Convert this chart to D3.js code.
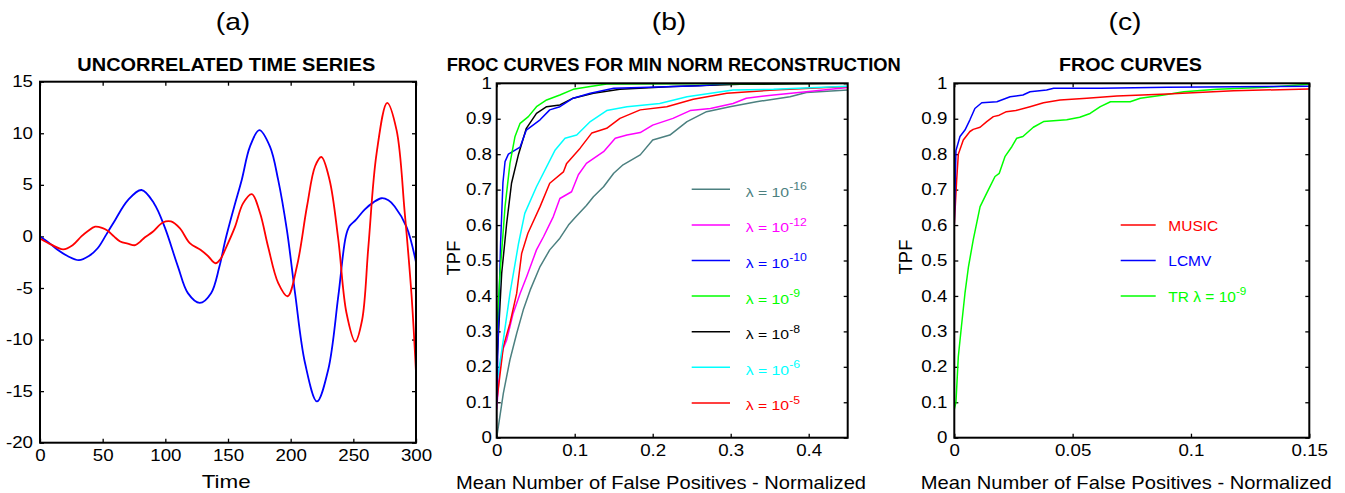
<!DOCTYPE html>
<html>
<head>
<meta charset="utf-8">
<script src="https://cdn.jsdelivr.net/npm/d3@7"></script>
<style>
body { margin: 0; background: #fff; }
text { font-family: "Liberation Sans", Arial, Helvetica, sans-serif; fill: #000; }
</style>
</head>
<body>
<svg id="fig" width="1345" height="493"></svg>
<script>
// ---- data ----
// (a) uncorrelated time series : [time, value]
var blueSeries = [[0,0],[7,-0.6],[14,-1.3],[22,-1.9],[31,-2.3],[39,-1.9],[46,-1.15],[53,0.2],[60,1.6],[70,3.5],[81,4.5],[91,3.2],[99.5,0.9],[110,-2.9],[118,-5.5],[127.5,-6.45],[136.5,-5.5],[143,-3.0],[148,-0.3],[155,2.9],[161,5.5],[167.5,8.7],[175,10.3],[183.5,8.7],[190,5.5],[197,0.6],[203.5,-5.5],[211.5,-12.3],[221,-16],[230,-12.9],[238,-5.8],[244,0.0],[247,1.0],[252,1.6],[259,2.6],[266,3.3],[272.5,3.7],[278,3.5],[283,2.9],[292.5,0.9],[300,-2.5]];
var redSeries = [[0,-0.2],[9,-0.8],[18.5,-1.25],[26,-0.85],[33,0],[38,0.5],[44,0.95],[50,0.8],[54,0.55],[59,0],[64,-0.5],[70,-0.7],[76,-0.85],[80,-0.5],[83.5,-0.1],[90,0.45],[98,1.35],[104.5,1.45],[111.5,0.8],[119.5,-0.65],[128,-1.3],[134,-1.9],[140,-2.6],[144,-2.2],[148,-1.2],[155.5,0.9],[162,3.2],[169,4.1],[175.5,2.3],[182,-1.0],[190,-4.5],[197.5,-5.8],[205,-2.9],[213,2.9],[219.5,6.8],[224.5,7.7],[231,5.5],[238,-0.3],[244.5,-7.4],[251.5,-10.2],[257,-8.1],[262,-1.0],[268.5,8.0],[277,12.95],[284.5,10.3],[291,2.3],[296.5,-5.8],[300,-13.2]];

// (b) FROC curves for min norm reconstruction : [FP, TPF]
var froc16 = [[0,0],[0.0085,0.125],[0.017,0.22],[0.0256,0.294],[0.034,0.36],[0.043,0.417],[0.0556,0.483],[0.068,0.53],[0.081,0.563],[0.092,0.6],[0.1,0.62],[0.115,0.655],[0.124,0.68],[0.137,0.708],[0.15,0.746],[0.162,0.77],[0.184,0.798],[0.2,0.84],[0.222,0.854],[0.244,0.892],[0.269,0.92],[0.299,0.934],[0.333,0.948],[0.376,0.962],[0.397,0.974],[0.45,0.981]];
var froc12 = [[0,0.08],[0.004,0.2],[0.008,0.25],[0.0128,0.276],[0.021,0.35],[0.03,0.407],[0.0385,0.455],[0.051,0.53],[0.06,0.567],[0.0726,0.624],[0.081,0.675],[0.096,0.694],[0.1047,0.742],[0.115,0.774],[0.137,0.807],[0.152,0.845],[0.167,0.854],[0.184,0.861],[0.2,0.882],[0.226,0.901],[0.248,0.923],[0.274,0.929],[0.303,0.943],[0.32,0.958],[0.355,0.967],[0.397,0.976],[0.45,0.988]];
var froc10 = [[0,0.1],[0.002,0.3],[0.005,0.55],[0.008,0.72],[0.0107,0.779],[0.015,0.8],[0.03,0.82],[0.038,0.868],[0.0556,0.897],[0.068,0.925],[0.081,0.934],[0.098,0.958],[0.12,0.972],[0.15,0.986],[0.184,0.988],[0.26,0.993],[0.303,1.0],[0.45,1.0]];
var froc9 = [[0,0.3],[0.0043,0.464],[0.0107,0.652],[0.017,0.774],[0.0235,0.85],[0.03,0.887],[0.0406,0.906],[0.051,0.934],[0.064,0.953],[0.081,0.967],[0.098,0.983],[0.12,0.991],[0.141,0.998],[0.45,1.0]];
var froc8 = [[0,0.2],[0.0064,0.464],[0.0128,0.605],[0.019,0.718],[0.028,0.8],[0.038,0.873],[0.051,0.915],[0.064,0.934],[0.081,0.939],[0.098,0.958],[0.124,0.972],[0.158,0.983],[0.226,0.991],[0.312,0.997],[0.45,1.0]];
var froc6 = [[0,0.15],[0.0085,0.276],[0.017,0.407],[0.028,0.548],[0.036,0.633],[0.051,0.708],[0.075,0.812],[0.0876,0.845],[0.1026,0.854],[0.12,0.892],[0.141,0.923],[0.167,0.934],[0.209,0.943],[0.244,0.962],[0.303,0.981],[0.355,0.983],[0.45,0.992]];
var froc5 = [[0,0.1],[0.0085,0.257],[0.017,0.323],[0.0256,0.407],[0.032,0.52],[0.04,0.577],[0.0556,0.652],[0.068,0.718],[0.0855,0.75],[0.0897,0.774],[0.107,0.817],[0.122,0.86],[0.141,0.873],[0.158,0.901],[0.184,0.925],[0.218,0.934],[0.252,0.955],[0.295,0.972],[0.355,0.981],[0.45,0.991]];
var lambdaExps = ["-16", "-12", "-10", "-9", "-8", "-6", "-5"];

// (c) FROC curves
var music = [[0,0.6],[0.001,0.727],[0.0017,0.8],[0.0038,0.84],[0.0066,0.864],[0.008,0.87],[0.0109,0.876],[0.0137,0.892],[0.0165,0.906],[0.019,0.91],[0.022,0.92],[0.026,0.923],[0.032,0.934],[0.0377,0.945],[0.0447,0.953],[0.056,0.958],[0.0687,0.964],[0.09,0.97],[0.118,0.979],[0.15,0.984]];
var lcmv = [[0,0.6],[0.0007,0.81],[0.0024,0.85],[0.0045,0.868],[0.0066,0.897],[0.0087,0.929],[0.0116,0.945],[0.018,0.948],[0.0236,0.962],[0.029,0.967],[0.032,0.976],[0.039,0.981],[0.042,0.986],[0.062,0.986],[0.09,0.989],[0.15,0.992]];
var trLambda9 = [[0,0.08],[0.0007,0.1],[0.0017,0.229],[0.003,0.313],[0.0045,0.407],[0.006,0.483],[0.008,0.558],[0.0109,0.652],[0.0137,0.69],[0.0172,0.737],[0.019,0.746],[0.0214,0.793],[0.0243,0.821],[0.0264,0.845],[0.029,0.85],[0.0334,0.876],[0.0377,0.892],[0.0475,0.897],[0.053,0.904],[0.0574,0.915],[0.0617,0.934],[0.066,0.948],[0.0743,0.948],[0.0786,0.958],[0.0885,0.967],[0.097,0.976],[0.111,0.983],[0.132,0.989],[0.15,0.997]];
var methodNames = ["MUSIC", "LCMV", "TR \u03bb = 10"];

var svg = d3.select("#fig");
var SX = 1.17; // glyphs in the figure are a bit wide

// text squashed/stretched horizontally like in the original
function wideText(x, y, str, size, anchor, sx) {
    return svg.append("text")
        .attr("transform", "translate(" + x + "," + y + ") scale(" + sx + ",1)")
        .attr("text-anchor", anchor)
        .attr("font-size", size)
        .text(str);
}

function fitText(x, y, str, size, len, bold) {
    return svg.append("text")
        .attr("x", x).attr("y", y)
        .attr("font-size", size)
        .attr("font-weight", bold ? "bold" : "normal")
        .attr("textLength", len)
        .attr("lengthAdjust", "spacingAndGlyphs")
        .text(str);
}

// plain hyphen minus, like matlab
function plain(d) { return String(d); }

// frame + inward ticks on all four sides
function makePanel(id, box, xDom, yDom, xTicks, yTicks, xFmt, yFmt, yPad) {
    var x = d3.scaleLinear().domain(xDom).range([box.left, box.right]);
    var y = d3.scaleLinear().domain(yDom).range([box.bottom, box.top]);
    var g = svg.append("g");

    var bottom = g.append("g").attr("transform", "translate(0," + box.bottom + ")")
        .call(d3.axisBottom(x).tickValues(xTicks).tickFormat(xFmt).tickSizeInner(-4).tickSizeOuter(0).tickPadding(7));
    g.append("g").attr("transform", "translate(" + box.left + ",0)")
        .call(d3.axisLeft(y).tickValues(yTicks).tickFormat(yFmt).tickSizeInner(-4).tickSizeOuter(0).tickPadding(yPad));
    g.append("g").attr("transform", "translate(0," + box.top + ")")
        .call(d3.axisTop(x).tickValues(xTicks).tickFormat("").tickSizeInner(-4).tickSizeOuter(0));
    g.append("g").attr("transform", "translate(" + box.right + ",0)")
        .call(d3.axisRight(y).tickValues(yTicks).tickFormat("").tickSizeInner(-4).tickSizeOuter(0));

    g.selectAll(".domain").remove();
    g.selectAll(".tick line").attr("stroke", "#000").attr("stroke-width", 1.3);
    g.selectAll("text")
        .attr("font-size", 16)
        .attr("font-family", "'Liberation Sans', Arial, sans-serif")
        .attr("transform", "scale(" + SX + ",1)");
    bottom.selectAll("text").attr("x", 0);

    svg.append("clipPath").attr("id", id)
        .append("rect")
        .attr("x", box.left).attr("y", box.top)
        .attr("width", box.right - box.left).attr("height", box.bottom - box.top);

    var plot = svg.append("g").attr("clip-path", "url(#" + id + ")");

    svg.append("rect")
        .attr("x", box.left).attr("y", box.top)
        .attr("width", box.right - box.left).attr("height", box.bottom - box.top)
        .attr("fill", "none").attr("stroke", "#000").attr("stroke-width", 2);

    return { x: x, y: y, plot: plot };
}

function drawLine(p, data, color, width, curve) {
    var line = d3.line()
        .x(function (d) { return p.x(d[0]); })
        .y(function (d) { return p.y(d[1]); })
        .curve(curve || d3.curveLinear);
    p.plot.append("path")
        .datum(data)
        .attr("d", line)
        .attr("fill", "none")
        .attr("stroke", color)
        .attr("stroke-width", width)
        .attr("stroke-linejoin", "round");
}

//////////////////////////////////////////////////////////////
// (a) UNCORRELATED TIME SERIES
var pa = makePanel("clipA", { left: 40, right: 416, top: 81.7, bottom: 442.7 },
    [0, 300], [-20, 15], d3.range(0, 301, 50), d3.range(-20, 16, 5),
    plain, plain, 6);
drawLine(pa, blueSeries, "#0000ff", 1.8, d3.curveCatmullRom.alpha(0.5));
drawLine(pa, redSeries, "#ff0000", 1.8, d3.curveCatmullRom.alpha(0.5));

wideText(233, 29.5, "(a)", 24, "middle", 1.18);
fitText(77.3, 71, "UNCORRELATED TIME SERIES", 19, 298, true);
fitText(201.7, 488, "Time", 18.5, 49, false);

//////////////////////////////////////////////////////////////
// (b) FROC CURVES FOR MIN NORM RECONSTRUCTION
var lamColors = ["#4c8080", "#ff00ff", "#0000ff", "#00ff00", "#000000", "#00ffff", "#ff0000"];
var frocSets = [froc16, froc12, froc10, froc9, froc8, froc6, froc5];

var pb = makePanel("clipB", { left: 496.7, right: 847.7, top: 83.3, bottom: 437.7 },
    [0, 0.45], [0, 1], [0, 0.1, 0.2, 0.3, 0.4], d3.range(0, 11).map(function (i) { return i / 10; }),
    plain, plain, 4);

// draw order so green/blue sit on top like the original
[0, 1, 6, 5, 4, 2, 3].forEach(function (i) {
    drawLine(pb, frocSets[i], lamColors[i], 1.5);
});

lambdaExps.forEach(function (e, i) {
    var rowY = 189.3 + i * 35.6;
    svg.append("line")
        .attr("x1", 691.7).attr("x2", 730)
        .attr("y1", rowY).attr("y2", rowY)
        .attr("stroke", lamColors[i]).attr("stroke-width", 1.5);
    var t = wideText(745.7, rowY + 7.4, "", 13.5, "start", SX).style("fill", lamColors[i]);
    t.append("tspan").text("\u03bb = 10");
    t.append("tspan").attr("dy", -6.5).attr("font-size", 10.5).text(e);
});

wideText(669, 29.5, "(b)", 24, "middle", 1.18);
fitText(446.7, 71, "FROC CURVES FOR MIN NORM RECONSTRUCTION", 19, 454, true);
fitText(456, 489, "Mean Number of False Positives - Normalized", 18.5, 410, false);
svg.append("text")
    .attr("transform", "translate(460,258) rotate(-90)")
    .attr("text-anchor", "middle").attr("font-size", 18.5).text("TPF");

//////////////////////////////////////////////////////////////
// (c) FROC CURVES
var methodColors = ["#ff0000", "#0000ff", "#00ff00"];
var methodSets = [music, lcmv, trLambda9];

var pc = makePanel("clipC", { left: 954.3, right: 1309.3, top: 83.3, bottom: 437.7 },
    [0, 0.15], [0, 1], [0, 0.05, 0.1, 0.15], d3.range(0, 11).map(function (i) { return i / 10; }),
    plain, plain, 6);

[2, 0, 1].forEach(function (i) {
    drawLine(pc, methodSets[i], methodColors[i], 1.5);
});

methodNames.forEach(function (name, i) {
    var rowY = 225 + i * 35.5;
    svg.append("line")
        .attr("x1", 1120.7).attr("x2", 1155.7)
        .attr("y1", rowY).attr("y2", rowY)
        .attr("stroke", methodColors[i]).attr("stroke-width", 1.5);
    var t = wideText(1168.3, rowY + 5.7, "", 14.5, "start", 1.07).style("fill", methodColors[i]);
    t.append("tspan").text(name);
    if (i === 2) t.append("tspan").attr("dy", -6.5).attr("font-size", 11).text("-9");
});

wideText(1125, 29.5, "(c)", 24, "middle", 1.18);
fitText(1059, 71, "FROC CURVES", 19, 143, true);
fitText(920.7, 489, "Mean Number of False Positives - Normalized", 18.5, 411, false);
svg.append("text")
    .attr("transform", "translate(912,257) rotate(-90)")
    .attr("text-anchor", "middle").attr("font-size", 18.5).text("TPF");
</script>
</body>
</html>
